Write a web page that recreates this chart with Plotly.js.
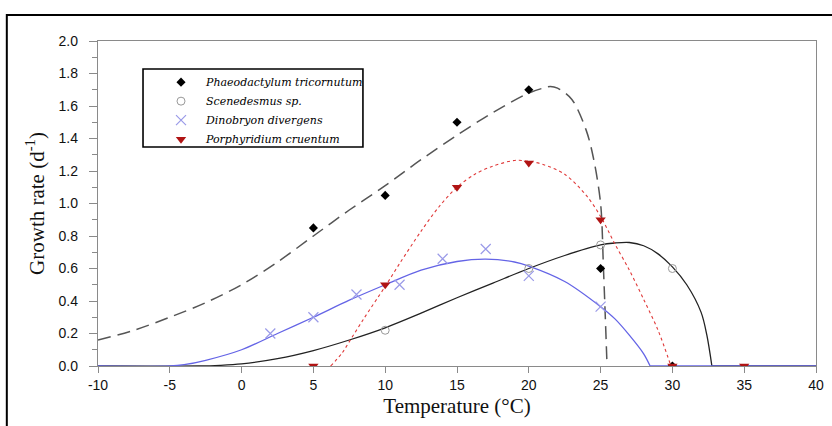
<!DOCTYPE html>
<html>
<head>
<meta charset="utf-8">
<script src="https://cdn.plot.ly/plotly-3.0.1.min.js"></script>
<style>
html,body{margin:0;padding:0;background:#fff;}
#chart{width:832px;height:426px;}
</style>
</head>
<body>
<div id="chart"></div>
<script>
// ---- measured data points ----
const seriesNames = ["Phaeodactylum tricornutum", "Scenedesmus sp.", "Dinobryon divergens", "Porphyridium cruentum"];

const phaeoT = [5, 10, 15, 20, 25, 30];
const phaeoV = [0.85, 1.05, 1.50, 1.70, 0.60, 0.00];

const scenT = [10, 20, 25, 30];
const scenV = [0.22, 0.60, 0.745, 0.60];

const dinoT = [2, 5, 8, 11, 14, 17, 20, 25];
const dinoV = [0.20, 0.30, 0.44, 0.50, 0.66, 0.72, 0.555, 0.365];

const porphT = [5, 10, 15, 20, 25, 30, 35];
const porphV = [0.00, 0.50, 1.10, 1.25, 0.90, 0.00, 0.00];

// ---- fitted curves ----
const phaeoCurveT = [-10, -7.5, -5, -2.5, 0, 2.5, 5, 7.5, 10, 12.5, 15, 17.5, 20, 21, 21.5, 22, 23, 24, 24.5, 25, 25.2, 25.45];
const phaeoCurveV = [0.16, 0.22, 0.30, 0.39, 0.50, 0.64, 0.80, 0.96, 1.11, 1.27, 1.42, 1.56, 1.68, 1.71, 1.72, 1.71, 1.64, 1.45, 1.28, 1.00, 0.60, 0.00];

const scenCurveT = [-10, -3, -1.5, 0, 2.5, 5, 7.5, 10, 12.5, 15, 17.5, 20, 22.5, 25, 26, 27, 28, 29, 30, 31, 32, 32.4, 32.75];
const scenCurveV = [0, 0, 0.004, 0.013, 0.045, 0.095, 0.16, 0.235, 0.325, 0.42, 0.51, 0.60, 0.68, 0.745, 0.757, 0.76, 0.74, 0.69, 0.61, 0.50, 0.33, 0.19, 0];
const scenTailT = [32.75, 40];
const scenTailV = [0, 0];

const dinoCurveT = [-10, -5, -4, -2.5, 0, 2.5, 5, 7.5, 10, 12.5, 15, 17, 19, 20, 22.5, 25, 26, 27, 28, 28.45];
const dinoCurveV = [0, 0, 0.008, 0.035, 0.10, 0.20, 0.30, 0.405, 0.50, 0.59, 0.643, 0.658, 0.64, 0.615, 0.52, 0.365, 0.29, 0.19, 0.075, 0];
const dinoTailT = [28.45, 40];
const dinoTailV = [0, 0];

const porphCurveT = [6.2, 7, 7.5, 8.5, 10, 11, 12.5, 13.75, 15, 16.25, 17.5, 19, 20, 21, 22.5, 24, 25, 26, 27, 28, 29, 29.9];
const porphCurveV = [0, 0.08, 0.15, 0.29, 0.49, 0.63, 0.83, 0.98, 1.10, 1.18, 1.23, 1.265, 1.26, 1.24, 1.18, 1.05, 0.92, 0.75, 0.59, 0.41, 0.22, 0];

const xTicks = [-10, -5, 0, 5, 10, 15, 20, 25, 30, 35, 40];
const yTicks = [0.0, 0.2, 0.4, 0.6, 0.8, 1.0, 1.2, 1.4, 1.6, 1.8, 2.0];

const curve = (x, y, color, width, dash) => ({
  x: x, y: y, type: 'scatter', mode: 'lines', showlegend: false, hoverinfo: 'skip',
  line: {color: color, width: width, dash: dash, shape: 'spline', smoothing: 0.9}
});

const traces = [
  curve(phaeoCurveT, phaeoCurveV, '#555555', 1.5, '13px,7px'),
  curve(scenCurveT, scenCurveV, '#222222', 1.3, 'solid'),
  curve(scenTailT, scenTailV, '#222222', 1.3, 'solid'),
  curve(dinoCurveT, dinoCurveV, '#6464e6', 1.3, 'solid'),
  curve(dinoTailT, dinoTailV, '#6464e6', 1.3, 'solid'),
  curve(porphCurveT, porphCurveV, '#e03a3a', 1.1, 'dot'),
  {x: phaeoT, y: phaeoV, type: 'scatter', mode: 'markers', name: seriesNames[0],
   marker: {symbol: 'diamond', size: 7, color: '#000000'}},
  {x: scenT, y: scenV, type: 'scatter', mode: 'markers', name: seriesNames[1],
   marker: {symbol: 'circle-open', size: 8, color: '#999999', line: {width: 1}}},
  {x: dinoT, y: dinoV, type: 'scatter', mode: 'markers', name: seriesNames[2],
   marker: {symbol: 'x-thin-open', size: 10, color: '#9a9ae8', line: {width: 1.2, color: '#9a9ae8'}}},
  {x: porphT, y: porphV, type: 'scatter', mode: 'markers', name: seriesNames[3],
   marker: {symbol: 'triangle-down', size: 9, color: '#b01414'}}
];

const axisCommon = {
  showline: true, linecolor: '#8a8a8a', linewidth: 1.2, mirror: true,
  showgrid: false, zeroline: false, ticks: 'outside', tickcolor: '#8a8a8a',
  tickfont: {family: 'Liberation Sans, Arial, sans-serif', size: 14, color: '#111'}
};

const layout = {
  width: 832, height: 426,
  margin: {l: 98, r: 16, t: 41, b: 60},
  paper_bgcolor: '#ffffff', plot_bgcolor: '#ffffff',
  showlegend: true,
  xaxis: Object.assign({}, axisCommon, {
    range: [-10, 40], tickvals: xTicks, ticktext: xTicks.map(String), ticklen: 6,
    title: {text: 'Temperature (°C)', standoff: 6,
            font: {family: 'Liberation Serif, Times New Roman, serif', size: 21, color: '#111'}}
  }),
  yaxis: Object.assign({}, axisCommon, {
    range: [0, 2.0], tickvals: yTicks, ticktext: yTicks.map(v => v.toFixed(1)), ticklen: 8,
    ticklabelstandoff: 8,
    minor: {dtick: 0.1, ticks: 'outside', ticklen: 5, tickcolor: '#8a8a8a', showgrid: false},
    title: {text: 'Growth rate (d<sup>-1</sup>)', standoff: 8,
            font: {family: 'Liberation Serif, Times New Roman, serif', size: 21, color: '#111'}}
  }),
  legend: {
    x: 0.0808, y: 0.918, xanchor: 'left', yanchor: 'top',
    bgcolor: 'rgba(0,0,0,0)', borderwidth: 0, itemwidth: 40,
    font: {family: 'DejaVu Serif, serif', size: 11, color: '#000', style: 'italic'},
    tracegroupgap: 0
  },
  shapes: [
    {type: 'path', xref: 'paper', yref: 'paper',
     path: 'M -0.127 -0.2 L -0.127 1.08 L 1.03 1.08',
     line: {color: '#000000', width: 2}},
    {type: 'rect', xref: 'paper', yref: 'paper', layer: 'below',
     x0: 0.0627, x1: 0.369, y0: 0.674, y1: 0.9138,
     fillcolor: '#ffffff', line: {color: '#000000', width: 1.6}}
  ]
};

Plotly.newPlot('chart', traces, layout, {displayModeBar: false, staticPlot: true});
</script>
</body>
</html>
